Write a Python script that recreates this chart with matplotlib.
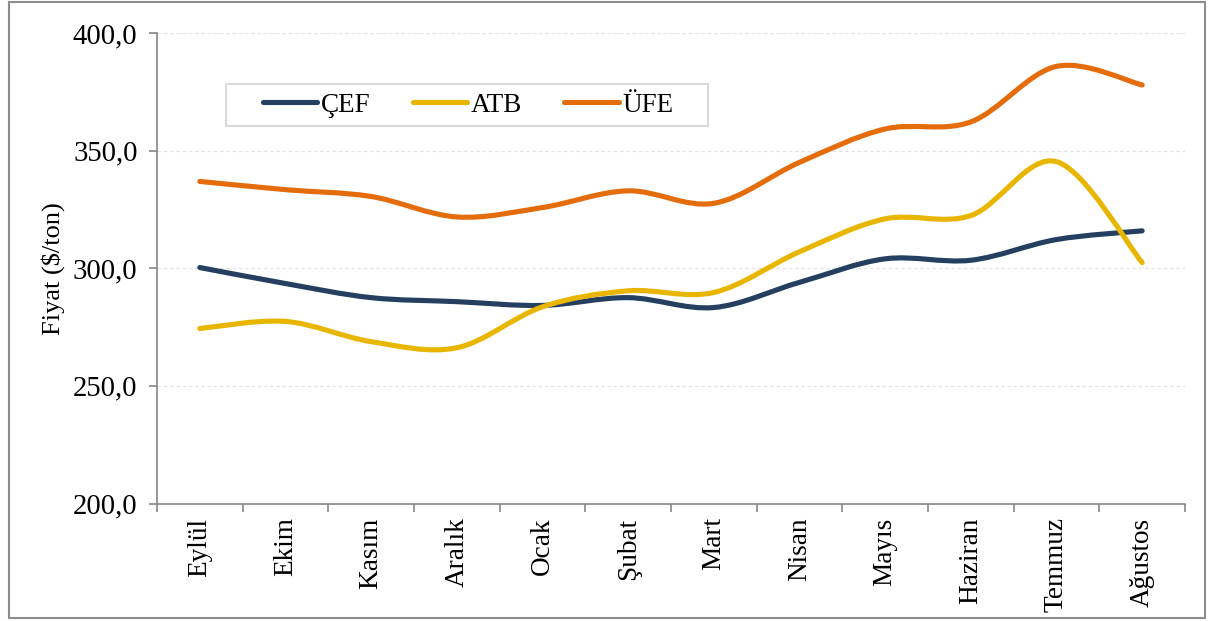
import numpy as np
import matplotlib.pyplot as plt
from matplotlib.path import Path
from matplotlib.patches import PathPatch, Rectangle
from matplotlib.lines import Line2D

aylar = ['Eylül', 'Ekim', 'Kasım', 'Aralık', 'Ocak', 'Şubat', 'Mart',
         'Nisan', 'Mayıs', 'Haziran', 'Temmuz', 'Ağustos']
cef = [300.3, 293.5, 287.5, 285.8, 284.2, 287.5, 283.3, 294.0, 304.0, 303.4, 312.2, 315.9]
atb = [274.4, 277.4, 268.8, 266.2, 283.6, 290.4, 289.7, 307.0, 321.0, 322.4, 345.3, 302.4]
ufe = [336.9, 333.4, 330.5, 321.8, 325.8, 332.9, 327.6, 345.0, 359.2, 362.2, 385.8, 377.9]

seriler = [('ÇEF', cef, '#243f60'), ('ATB', atb, '#e8b600'), ('ÜFE', ufe, '#e46c0a')]


def yumusak_yol(xs, ys):
    # Excel tarzi yumusatilmis cizgi (Catmull-Rom -> Bezier)
    p = np.column_stack([xs, ys]).astype(float)
    verts = [p[0]]
    codes = [Path.MOVETO]
    n = len(p)
    for i in range(n - 1):
        p0 = p[i - 1] if i > 0 else p[i]
        p1, p2 = p[i], p[i + 1]
        p3 = p[i + 2] if i + 2 < n else p[i + 1]
        verts += [p1 + (p2 - p0) / 6, p2 - (p3 - p1) / 6, p2]
        codes += [Path.CURVE4] * 3
    return Path(verts, codes)


plt.rcParams['font.family'] = ['Liberation Serif', 'DejaVu Serif']

fig = plt.figure(figsize=(12.15, 6.21), dpi=100)
ax = fig.add_axes([0.1292, 0.1892, 0.8461, 0.7577])

x = np.arange(len(aylar))
handles = []
for ad, vals, renk in seriler:
    patch = PathPatch(yumusak_yol(x, vals), facecolor='none', edgecolor=renk,
                      lw=3.7, capstyle='round', joinstyle='round', zorder=3)
    ax.add_patch(patch)
    handles.append(Line2D([], [], color=renk, lw=3.7, solid_capstyle='round', label=ad))

ax.set_xlim(-0.5, len(aylar) - 0.5)
ax.set_ylim(200, 400)
ax.set_yticks([200, 250, 300, 350, 400])
ax.set_yticklabels(['200,0', '250,0', '300,0', '350,0', '400,0'], fontsize=20.7)
ax.set_xticks(x)
ax.set_xticklabels(aylar, rotation=90, fontsize=19.6)
ax.set_xticks(np.arange(-0.5, len(aylar), 1.0), minor=True)
ax.tick_params(axis='x', which='major', length=0, pad=10)
ax.tick_params(axis='x', which='minor', length=6, width=1.2, color='#868686')
ax.tick_params(axis='y', length=6, width=1.2, color='#868686', pad=8)

ax.grid(axis='y', color='#e4e4e4', lw=0.9, ls=(0, (3, 2)), zorder=0)
for s in ['top', 'right']:
    ax.spines[s].set_visible(False)
for s in ['left', 'bottom']:
    ax.spines[s].set_color('#868686')
    ax.spines[s].set_linewidth(1.2)

ax.set_ylabel('Fiyat ($/ton)', fontsize=19, labelpad=6)

fig.legend(handles=handles, loc='center', bbox_to_anchor=(0.3855, 0.8309), ncol=3,
           frameon=False, fontsize=19.5, handlelength=2.0, handletextpad=0.15,
           columnspacing=1.55)
fig.add_artist(Rectangle((226 / 1215, 1 - 126 / 621), 482 / 1215, 42 / 621,
                         transform=fig.transFigure, facecolor='none',
                         edgecolor='#d9d9d9', lw=1.5))
fig.add_artist(Rectangle((9 / 1215, 3 / 621), 1196 / 1215, 616 / 621,
                         transform=fig.transFigure, facecolor='none',
                         edgecolor='#8c8c8c', lw=1.5))

fig.savefig('out.png', dpi=100)
